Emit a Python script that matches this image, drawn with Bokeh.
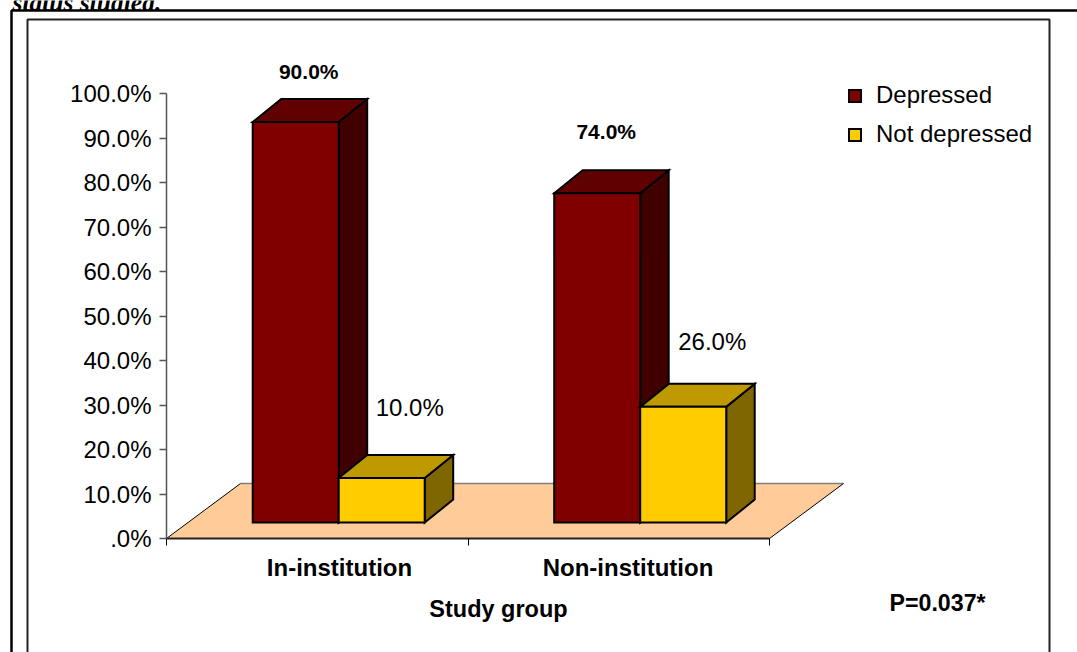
from bokeh.embed import file_html
from bokeh.models import (BoxAnnotation, ColumnDataSource, FixedTicker, Label, Legend,
                          LegendItem, Range1d)
from bokeh.plotting import figure
from bokeh.resources import INLINE

# Values
groups = ["In-institution", "Non-institution"]
series_names = ["Depressed", "Not depressed"]
depressed = [90.0, 74.0]
not_depressed = [10.0, 26.0]
percent_ticks = [0, 10, 20, 30, 40, 50, 60, 70, 80, 90, 100]
percent_labels = [".0%", "10.0%", "20.0%", "30.0%", "40.0%", "50.0%", "60.0%", "70.0%",
                  "80.0%", "90.0%", "100.0%"]

# Colours: front, top and side faces of each series
red_faces = ["#800000", "#600000", "#400000"]
yellow_faces = ["#FFCC00", "#BF9900", "#806600"]
FLOOR = "#FFCC99"

# Scale of the drawing: the axes cross at pixel (166, 538) of the page
WIDTH, HEIGHT = 1077, 652
PX_X = 301.5   # pixels per category
PX_Y = 4.45    # pixels per percentage point
ORIGIN_X, ORIGIN_Y = 166, 538


def to_x(px):
    return (px - ORIGIN_X) / PX_X


def to_y(py):
    return (ORIGIN_Y - py) / PX_Y


# Oblique projection of the floor: a full step in depth moves this far on screen
DEPTH_X = 74 / PX_X
DEPTH_Y = 55 / PX_Y
BAR_FRONT = 0.29
BAR_BACK_X, BAR_BACK_Y = 0.675, 0.708
BAR_WIDTH = 86 / PX_X


def project(x, y, depth_x, depth_y=None):
    depth_y = depth_x if depth_y is None else depth_y
    return x + depth_x * DEPTH_X, y + depth_y * DEPTH_Y


p = figure(width=WIDTH, height=HEIGHT, output_backend="svg", toolbar_location=None,
           x_range=Range1d(to_x(0), to_x(WIDTH)), y_range=Range1d(to_y(HEIGHT), to_y(0)),
           min_border=0, outline_line_color=None,
           background_fill_color="white", border_fill_color="white")
p.grid.visible = False

# Floor
fx0, fy0 = project(0, 0, 1)
fx1, fy1 = project(len(groups), 0, 1)
p.patch([0, len(groups), fx1, fx0], [0, 0, fy1, fy0], fill_color=FLOOR, line_color=None)
p.line([fx0, fx1], [fy0, fy1], line_color="#808080", line_width=1.5)
p.line([0, fx0], [0, fy0], line_color="black", line_width=1)
p.line([len(groups), fx1], [0, fy1], line_color="black", line_width=1)


def draw_bar(x_left, value, faces):
    x_right = x_left + BAR_WIDTH
    xa, ya = project(x_left, 0, BAR_FRONT)
    xb, _ = project(x_right, 0, BAR_FRONT)
    xc, yc = project(x_left, 0, BAR_BACK_X, BAR_BACK_Y)
    xd, _ = project(x_right, 0, BAR_BACK_X, BAR_BACK_Y)
    style = dict(line_color="black", line_width=2, line_join="miter")
    p.patch([xb, xd, xd, xb], [ya, yc, yc + value, ya + value], fill_color=faces[2], **style)
    p.patch([xa, xb, xd, xc], [ya + value, ya + value, yc + value, yc + value],
            fill_color=faces[1], **style)
    return p.quad(left=xa, right=xb, bottom=ya, top=ya + value, fill_color=faces[0], **style)


legend_renderers = [None, None]
for i, (a, b) in enumerate(zip(depressed, not_depressed)):
    centre = i + 0.5
    legend_renderers[0] = draw_bar(centre - BAR_WIDTH, a, red_faces)
    legend_renderers[1] = draw_bar(centre, b, yellow_faces)

# Value labels, each with its own offset from the top of its bar (in pixels)
placements = [(0, -BAR_WIDTH / 2, depressed, 13, 51, "bold"),
              (1, -BAR_WIDTH / 2, depressed, 9, 62, "bold"),
              (0, BAR_WIDTH / 2, not_depressed, 28, 71, "normal"),
              (1, BAR_WIDTH / 2, not_depressed, 29, 65, "normal")]
for weight, size in (("bold", "21px"), ("normal", "24px")):
    rows = [r for r in placements if r[5] == weight]
    xs, ys, texts = [], [], []
    for cat, shift, values, off_x, off_y, _ in rows:
        x0, y0 = project(cat + 0.5 + shift, values[cat], BAR_FRONT)
        xs.append(x0 + off_x / PX_X)
        ys.append(y0 + off_y / PX_Y)
        texts.append(f"{values[cat]:.1f}%")
    source = ColumnDataSource(dict(x=xs, y=ys, t=texts))
    p.text("x", "y", text="t", source=source, text_align="center", text_baseline="middle",
           text_font_size=size, text_font_style=weight, text_color="black",
           text_font={"value": "Liberation Sans"})

# Axes, pinned to the crossing point inside the drawing
yax = p.yaxis[0]
yax.fixed_location = 0
yax.bounds = (0, 100)
yax.ticker = FixedTicker(ticks=percent_ticks, minor_ticks=[])
yax.major_label_overrides = dict(zip(percent_ticks, percent_labels))
yax.major_label_text_font = "Liberation Sans"
yax.major_label_text_font_size = "24px"
yax.major_label_text_color = "black"
yax.major_label_standoff = 8
yax.axis_line_color = "#555555"
yax.axis_line_width = 1.5
yax.major_tick_line_color = "#555555"
yax.major_tick_line_width = 1.5
yax.major_tick_out = 7
yax.major_tick_in = 0

# Group names sit off the tick midpoints, so they get their own label positions
label_positions = [to_x(339), to_x(627.5)]
xax = p.xaxis[0]
xax.fixed_location = 0
xax.bounds = (0, len(groups))
xax.ticker = FixedTicker(ticks=label_positions, minor_ticks=list(range(len(groups) + 1)))
xax.major_label_overrides = dict(zip(label_positions, groups))
xax.major_label_text_font = "Liberation Sans"
xax.major_label_text_font_size = "24px"
xax.major_label_text_font_style = "bold"
xax.major_label_text_color = "black"
xax.major_label_standoff = 8
xax.major_tick_out = 0
xax.major_tick_in = 0
xax.minor_tick_out = 7
xax.minor_tick_in = 0
xax.minor_tick_line_color = "black"
xax.minor_tick_line_width = 1
xax.axis_line_color = "#222222"
xax.axis_line_width = 2

# Captions
for text, x, y, size, font, style, align, baseline in (
        ("Study group", 498, 608, "23.5px", "Liberation Sans", "bold", "center", "middle"),
        ("P=0.037*", 889, 602, "23.2px", "Liberation Sans", "bold", "left", "middle"),
        ("status studied.", 12, 2, "25.5px", "Liberation Serif", "bold italic", "left", "alphabetic")):
    p.add_layout(Label(x=to_x(x), y=to_y(y), text=text, text_font=font, text_font_size=size,
                       text_font_style=style, text_align=align, text_baseline=baseline,
                       text_color="black"))

# Legend
legend = Legend(items=[LegendItem(label=series_names[0], renderers=[legend_renderers[0]]),
                       LegendItem(label=series_names[1], renderers=[legend_renderers[1]])],
                location=(847, HEIGHT - 148), glyph_width=15, glyph_height=15,
                label_text_font="Liberation Sans", label_text_font_size="24px",
                label_text_color="black",
                label_standoff=14, spacing=11, padding=0, margin=0,
                background_fill_alpha=0, border_line_alpha=0)
p.add_layout(legend)

# Page frames
for left, top, right, colour, width in ((11, 10, 1200, "black", 2.5), (27, 19, 1049, "#222222", 2)):
    p.add_layout(BoxAnnotation(left=left, right=right, top=top, bottom=800, left_units="canvas",
                               right_units="canvas", top_units="canvas", bottom_units="canvas",
                               fill_alpha=0, line_color=colour, line_alpha=1, line_width=width,
                               level="overlay"))

open("out.html", "w").write(file_html(p, INLINE))
